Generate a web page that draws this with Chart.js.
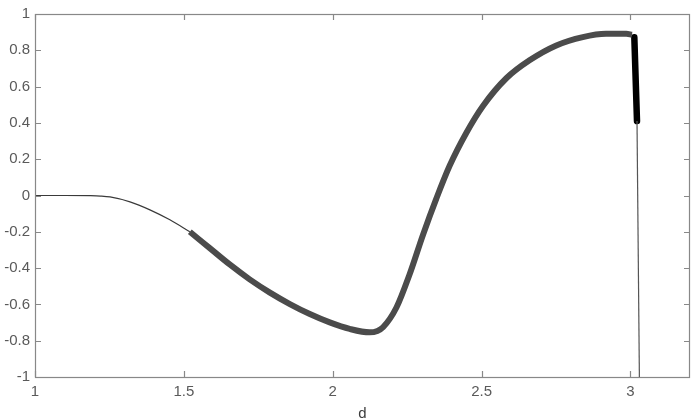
<!DOCTYPE html>
<html>
<head>
<meta charset="utf-8">
<script src="https://cdn.jsdelivr.net/npm/chart.js@4"></script>
<style>
  html, body { margin: 0; padding: 0; background: #fff; }
  canvas { display: block; }
</style>
</head>
<body>
<canvas id="grafico" width="692" height="420"></canvas>
<script>
// tick labels
const xTicks = [1, 1.5, 2, 2.5, 3];
const yTicks = [-1, -0.8, -0.6, -0.4, -0.2, 0, 0.2, 0.4, 0.6, 0.8, 1];

// thin start of the curve
const leadX = [1.0, 1.1, 1.185, 1.22, 1.252, 1.319, 1.386, 1.453, 1.52];
const leadY = [0, 0, -0.001, -0.003, -0.008, -0.035, -0.079, -0.134, -0.2];

// thick band
const bandX = [1.52, 1.587, 1.654, 1.721, 1.789, 1.856, 1.923, 1.99, 2.057, 2.124, 2.15, 2.169, 2.214, 2.258, 2.303, 2.348, 2.393, 2.449, 2.504, 2.583, 2.661, 2.751, 2.84, 2.918, 2.986, 3.005];
const bandY = [-0.2, -0.29, -0.38, -0.462, -0.535, -0.598, -0.653, -0.699, -0.735, -0.754, -0.746, -0.726, -0.617, -0.435, -0.217, -0.017, 0.165, 0.346, 0.492, 0.646, 0.745, 0.827, 0.873, 0.891, 0.891, 0.886];

// black drop near d = 3
const dropX = [3.013, 3.022];
const dropY = [0.872, 0.41];

// thin tail down to -1
const tailX = [3.022, 3.03];
const tailY = [0.41, -1];

const pontos = (xs, ys) => xs.map((x, i) => ({ x: x, y: ys[i] }));

const fonte = { family: "'Liberation Sans', Arial, Helvetica, sans-serif", size: 15 };

// moldura e ticks para dentro (estilo matlab)
const moldura = {
  id: 'moldura',
  afterDraw(chart) {
    const { ctx, chartArea: a, scales } = chart;
    ctx.save();
    ctx.strokeStyle = '#888';
    ctx.lineWidth = 1.2;
    ctx.strokeRect(Math.round(a.left) + 0.5, Math.round(a.top) + 0.5, Math.round(a.right - a.left) - 1, Math.round(a.bottom - a.top));
    ctx.beginPath();
    xTicks.forEach(v => {
      const px = Math.round(scales.x.getPixelForValue(v)) + 0.5;
      ctx.moveTo(px, a.bottom); ctx.lineTo(px, a.bottom - 6);
      ctx.moveTo(px, a.top); ctx.lineTo(px, a.top + 6);
    });
    yTicks.forEach(v => {
      const py = Math.round(scales.y.getPixelForValue(v)) + 0.5;
      ctx.moveTo(a.left, py); ctx.lineTo(a.left + 6, py);
      ctx.moveTo(a.right, py); ctx.lineTo(a.right - 6, py);
    });
    ctx.stroke();
    ctx.restore();
  }
};

new Chart(document.getElementById('grafico'), {
  type: 'scatter',
  data: {
    datasets: [
      { data: pontos(leadX, leadY), showLine: true, borderColor: '#3a3a3a', borderWidth: 1.2, pointRadius: 0, cubicInterpolationMode: 'monotone' },
      { data: pontos(tailX, tailY), showLine: true, borderColor: '#555', borderWidth: 1.2, pointRadius: 0 },
      { data: pontos(bandX, bandY), showLine: true, borderColor: '#4b4b4b', borderWidth: 6, borderCapStyle: 'butt', pointRadius: 0, cubicInterpolationMode: 'monotone' },
      { data: pontos(dropX, dropY), showLine: true, borderColor: '#000', borderWidth: 6.5, borderCapStyle: 'round', pointRadius: 0 }
    ]
  },
  options: {
    responsive: false,
    animation: false,
    devicePixelRatio: 1,
    layout: { padding: { left: 0, top: 10, right: 2, bottom: -3 } },
    plugins: { legend: { display: false }, tooltip: { enabled: false } },
    scales: {
      x: {
        type: 'linear',
        min: 1,
        max: 3.2,
        afterBuildTicks: s => { s.ticks = xTicks.map(v => ({ value: v })); },
        afterFit: s => { s.height = 46; },
        grid: { display: false, drawTicks: false },
        border: { display: false },
        ticks: { color: '#5a5a5a', font: fonte, padding: 6, maxRotation: 0, callback: v => String(v) },
        title: { display: true, text: 'd', color: '#3c3c3c', font: fonte, padding: { top: 0, bottom: 0 } }
      },
      y: {
        type: 'linear',
        min: -1,
        max: 1,
        afterBuildTicks: s => { s.ticks = yTicks.map(v => ({ value: v })); },
        afterFit: s => { s.width = 35; },
        grid: { display: false, drawTicks: false },
        border: { display: false },
        ticks: { color: '#5a5a5a', font: fonte, padding: 5, callback: v => String(Math.round(v * 10) / 10) }
      }
    }
  },
  plugins: [moldura]
});
</script>
</body>
</html>
